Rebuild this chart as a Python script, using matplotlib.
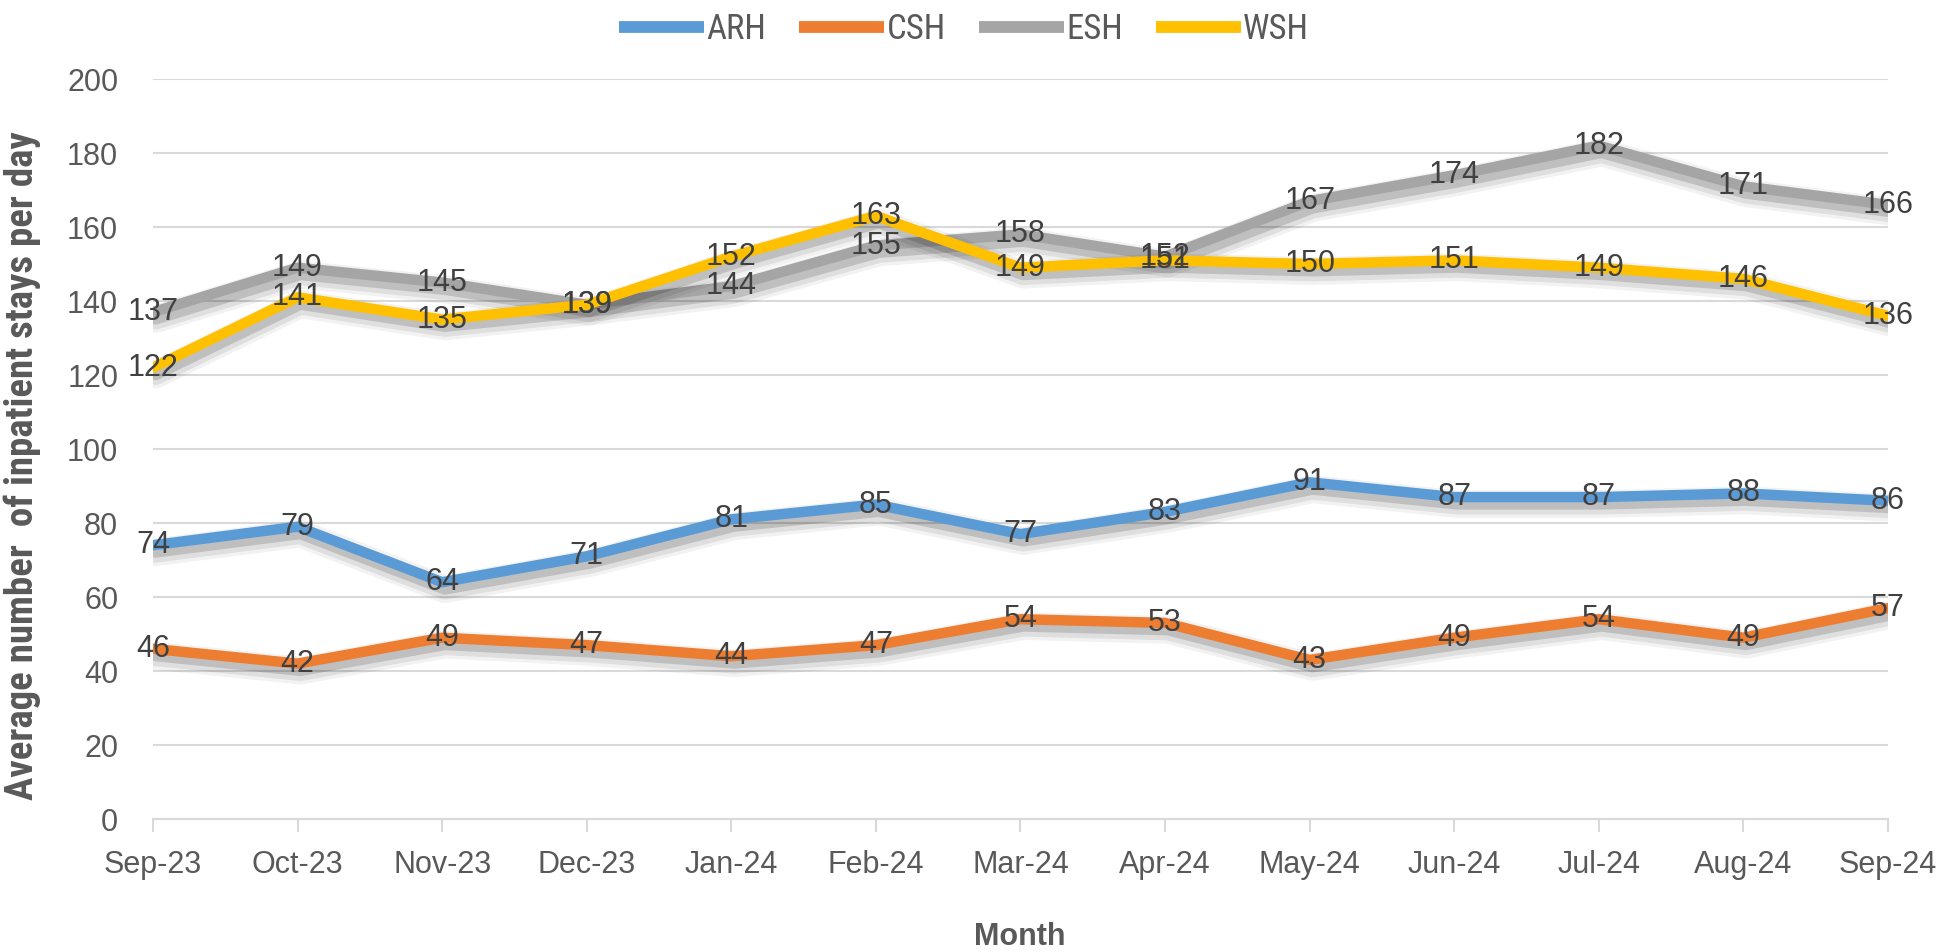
import matplotlib.pyplot as plt
import matplotlib.patheffects as pe
import numpy as np

plt.rcParams['font.family'] = ['Liberation Sans', 'DejaVu Sans']

# data
months = ['Sep-23', 'Oct-23', 'Nov-23', 'Dec-23', 'Jan-24', 'Feb-24', 'Mar-24',
          'Apr-24', 'May-24', 'Jun-24', 'Jul-24', 'Aug-24', 'Sep-24']
arh = [74, 79, 64, 71, 81, 85, 77, 83, 91, 87, 87, 88, 86]
csh = [46, 42, 49, 47, 44, 47, 54, 53, 43, 49, 54, 49, 57]
esh = [137, 149, 145, 139, 144, 155, 158, 152, 167, 174, 182, 171, 166]
wsh = [122, 141, 135, 139, 152, 163, 149, 151, 150, 151, 149, 146, 136]

series = {'ARH': arh, 'CSH': csh, 'ESH': esh, 'WSH': wsh}
colors = {'ARH': '#5B9BD5', 'CSH': '#ED7D31', 'ESH': '#A5A5A5', 'WSH': '#FFC000'}

narrow = ['Liberation Sans Narrow', 'Roboto Condensed', 'DejaVu Sans', 'Liberation Sans']

fig = plt.figure(figsize=(19.46, 9.52), dpi=100)
ax = fig.add_axes([0.0786, 0.1397, 0.8916, 0.7773])

x = np.arange(len(months))

# soft shadow under each line
shadow = [
    pe.SimpleLineShadow(offset=(2, -5), shadow_color='black', alpha=0.05, linewidth=20),
    pe.SimpleLineShadow(offset=(2, -5), shadow_color='black', alpha=0.08, linewidth=15),
    pe.SimpleLineShadow(offset=(2, -4), shadow_color='black', alpha=0.14, linewidth=10),
    pe.Normal(),
]

for name, vals in series.items():
    ax.plot(x, vals, color=colors[name], linewidth=7.5, label=name,
            solid_capstyle='round', solid_joinstyle='round', path_effects=shadow, zorder=3)

# data labels
for name, vals in series.items():
    for xi, v in zip(x, vals):
        ax.text(xi, v, str(v), ha='center', va='center', fontsize=22,
                color='#404040', zorder=5)

ax.set_xlim(0, 12)
ax.set_ylim(0, 200)
ax.set_yticks(range(0, 201, 20))
ax.set_xticks(x)
ax.set_xticklabels(months)

ax.grid(axis='y', color='#D9D9D9', linewidth=1.5)
ax.set_axisbelow(True)
for s in ['top', 'right', 'left']:
    ax.spines[s].set_visible(False)
ax.spines['bottom'].set_color('#D9D9D9')
ax.spines['bottom'].set_linewidth(1.5)

ax.tick_params(axis='y', length=0, pad=25, labelsize=22, labelcolor='#595959')
ax.tick_params(axis='x', length=9, width=1.5, color='#D9D9D9', pad=13,
               labelsize=22, labelcolor='#595959')

fig.text(22 / 1946, 1 - 466 / 952, 'Average number  of inpatient stays per day',
         rotation=90, ha='center', va='center', fontsize=28, color='#595959',
         family=narrow, fontstretch='condensed', fontweight='bold')
fig.text(1020 / 1946, 1 - 937 / 952, 'Month', ha='center', va='center',
         fontsize=22, color='#595959', fontweight='bold')

leg = fig.legend(loc='center', bbox_to_anchor=(0.4954, 0.9685), ncol=4, frameon=False,
                 handlelength=2.45, handletextpad=0.06, columnspacing=0.95,
                 prop={'family': narrow, 'stretch': 'condensed', 'size': 25})
for t in leg.get_texts():
    t.set_color('#595959')
for h in leg.legend_handles:
    h.set_path_effects([])
    h.set_linewidth(8.5)
    h.set_solid_capstyle('butt')

fig.savefig('out.png', dpi=100)
